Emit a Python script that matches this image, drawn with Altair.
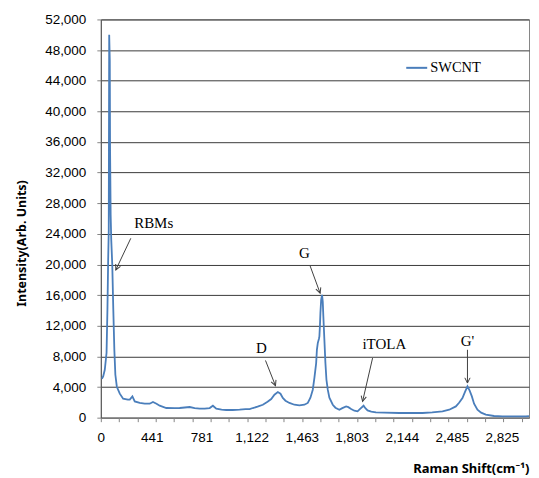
import math
import altair as alt
import pandas as pd

# ---- spectrum ----
raman_shift = [102, 111, 122, 134, 140, 145, 149, 152, 156, 158, 162, 166, 173, 180, 187, 194,
               204, 224, 247, 279, 292, 310, 326, 360, 394, 428, 450, 474, 496, 541, 598, 632,
               700, 734, 768, 802, 836, 858, 881, 917, 949, 992, 1040, 1080, 1108, 1130, 1162,
               1198, 1230, 1255, 1277, 1300, 1318, 1334, 1352, 1379, 1413, 1447, 1481, 1504,
               1522, 1538, 1549, 1561, 1566, 1572, 1580, 1583, 1587, 1590, 1595, 1601, 1606,
               1610, 1617, 1624, 1631, 1640, 1651, 1674, 1692, 1719, 1739, 1765, 1780, 1799,
               1821, 1843, 1862, 1884, 1896, 1911, 1936, 1968, 2025, 2127, 2229, 2285, 2351,
               2421, 2467, 2512, 2534, 2557, 2575, 2591, 2606, 2621, 2636, 2659, 2684, 2716,
               2772, 2829, 2908, 2988, 3010]
intensity = [5080, 5380, 6260, 8470, 14080, 20590, 24500, 50000, 46660, 34930, 26460, 23200,
             19940, 14080, 8860, 5600, 4040, 3130, 2480, 2350, 2350, 2780, 2120, 1920, 1820,
             1820, 2050, 1820, 1560, 1260, 1240, 1260, 1390, 1240, 1170, 1170, 1260, 1560,
             1170, 1040, 1000, 1000, 1040, 1110, 1110, 1260, 1430, 1690, 2090, 2440, 3000,
             3350, 3130, 2570, 2220, 1920, 1690, 1600, 1690, 1920, 2610, 3650, 5210, 7130,
             8860, 9740, 10300, 10600, 12120, 13680, 15380, 16030, 15120, 13200, 10170, 7130,
             4950, 3650, 2610, 1690, 1300, 1040, 1240, 1470, 1370, 1130, 910, 820, 1170, 1560,
             1240, 950, 780, 690, 650, 610, 610, 610, 690, 820, 1040, 1470, 1950, 2570, 3390,
             4080, 3520, 2780, 1820, 1040, 650, 390, 220, 170, 170, 170, 200]
series_name = "SWCNT"

# ---- axes ----
x_domain = [95, 3010]
y_domain = [0, 52000]
y_tick_values = [0, 4000, 8000, 12000, 16000, 20000, 24000, 28000, 32000, 36000, 40000,
                 44000, 48000, 52000]
x_label_values = [95, 441, 781, 1122, 1463, 1803, 2144, 2485, 2825]
x_minor_step = 124.55
x_minor_count = 24

# ---- annotations ----
ann_labels = ["RBMs", "D", "G", "iTOLA", "G'"]
ann_x = [455, 1189, 1481, 2025, 2591]
ann_y = [25450, 9120, 21540, 9640, 10040]
arrow_x1 = [299, 1216, 1520, 1945, 2591]
arrow_y1 = [23420, 7470, 19810, 7780, 8860]
arrow_x2 = [197, 1284, 1588, 1877, 2591]
arrow_y2 = [19290, 4170, 16250, 2120, 4520]

W, H = 429, 399
LINE_COLOR = "#4A7EBB"

spec_df = pd.DataFrame({"x": raman_shift, "y": intensity, "series": series_name})
ann_df = pd.DataFrame({"x": ann_x, "y": ann_y, "label": ann_labels})

px_x = W / (x_domain[1] - x_domain[0])
px_y = H / (y_domain[1] - y_domain[0])
angles = []
for a, b, c, d in zip(arrow_x1, arrow_y1, arrow_x2, arrow_y2):
    dx = (c - a) * px_x
    dy = -(d - b) * px_y
    angles.append(math.degrees(math.atan2(dx, -dy)) % 360)
arrow_df = pd.DataFrame({"x": arrow_x1, "y": arrow_y1, "x2": arrow_x2, "y2": arrow_y2,
                         "angle": angles})
head_df = pd.DataFrame({"x": arrow_x2, "y": arrow_y2, "angle": angles})

x_minor_ticks = [round(x_domain[0] + i * x_minor_step, 2) for i in range(x_minor_count)]
label_only = [v for v in x_label_values if v not in x_minor_ticks]
x_axis_values = sorted(x_minor_ticks + label_only)
label_list = "[" + ",".join(str(v) for v in x_label_values) + "]"
label_only_list = "[" + ",".join(str(v) for v in label_only) + "]"

xscale = alt.Scale(domain=x_domain, nice=False, zero=False)
yscale = alt.Scale(domain=y_domain, nice=False, zero=False)

x_axis = alt.Axis(
    values=x_axis_values,
    labelExpr=f"indexof({label_list}, datum.value) < 0 ? '' : "
              f"(datum.value < 100 ? '0' : format(datum.value, ',.0f'))",
    labelOverlap=False, labelFlush=False, grid=False,
    tickSize=4, tickColor="#868686",
    tickOpacity={"condition": {"test": f"indexof({label_only_list}, datum.value) >= 0",
                               "value": 0}, "value": 1},
    domainColor="#868686",
    labelFont="Liberation Sans", labelFontSize=13.5, labelColor="#000000", labelPadding=9,
    title="Raman Shift(cm\u207b\u00b9)", titleFont="Noto Sans", titleFontSize=13,
    titleFontWeight="bold", titleColor="#000000", titleX=W, titleY=51,
    titleAlign="right", titleBaseline="middle",
)

y_axis = alt.Axis(
    values=y_tick_values, format=",.0f", title="Intensity(Arb. Units)",
    grid=True, gridColor="#3a3a3a",
    tickSize=4, tickColor="#868686", domainColor="#555555",
    labelFont="Liberation Sans", labelFontSize=13.5, labelColor="#000000", labelPadding=11,
    titleFont="Noto Sans", titleFontSize=12.5, titleFontWeight="bold", titleColor="#000000",
    titleX=-79, titleY=224, titleAngle=270, titleAlign="center", titleBaseline="middle",
)

X = alt.X("x:Q", scale=xscale, axis=x_axis)
Y = alt.Y("y:Q", scale=yscale, axis=y_axis)

line = alt.Chart(spec_df).mark_line(strokeWidth=1.8).encode(
    x=X, y=Y,
    color=alt.Color("series:N", scale=alt.Scale(domain=[series_name], range=[LINE_COLOR]),
                    legend=alt.Legend(orient="none", legendX=305, legendY=37, title=None,
                                      symbolType="stroke", symbolSize=441,
                                      symbolStrokeWidth=2, labelFont="Liberation Serif",
                                      labelFontSize=14.5, labelColor="#000000",
                                      padding=0, labelOffset=2)),
)

labels = alt.Chart(ann_df).mark_text(font="Liberation Serif", fontSize=15, color="#000000",
                                     align="center", baseline="middle").encode(
    x=X, y=Y, text="label:N",
)

shafts = alt.Chart(arrow_df).mark_rule(color="#404040", strokeWidth=1).encode(
    x=X, x2="x2:Q", y=Y, y2="y2:Q",
)

heads = alt.Chart(head_df).mark_point(shape="M -0.5 1 L 0 0 L 0.5 1", filled=False,
                                      size=110, strokeWidth=1, color="#404040",
                                      opacity=1).encode(
    x=X, y=Y, angle=alt.Angle("angle:Q", scale=None),
)

chart = alt.layer(line, labels, shafts, heads).properties(
    width=W, height=H,
    autosize=alt.AutoSizeParams(type="none"),
    padding={"left": 93, "top": 11, "right": 2, "bottom": 59},
    background="white",
).configure_view(stroke="#868686", strokeWidth=1)

chart.save("out.html", embed_options={"renderer": "svg", "actions": False})
